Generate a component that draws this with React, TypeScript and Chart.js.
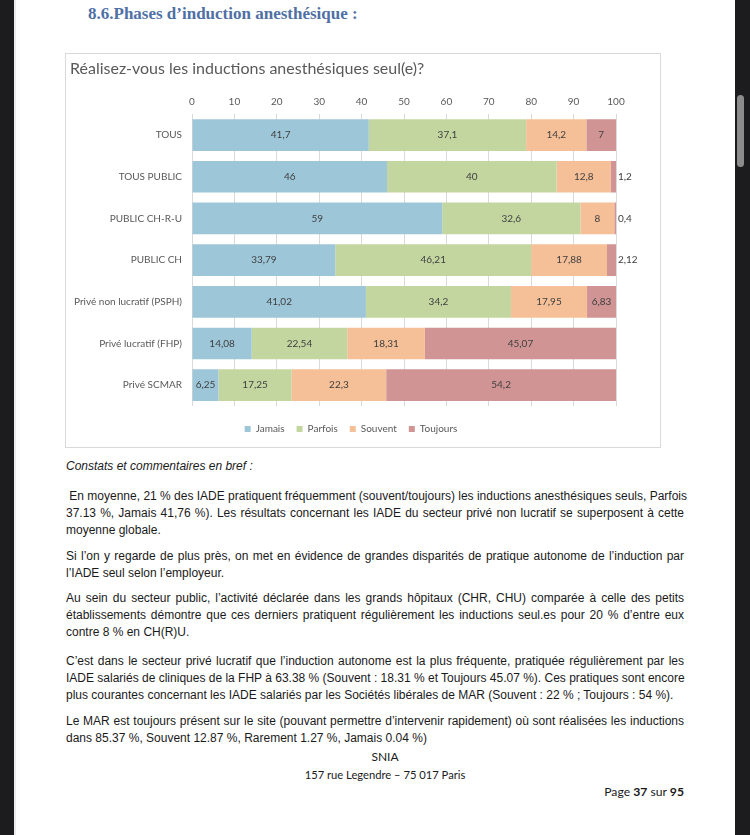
import React, { useEffect, useRef } from 'react';
import { Chart, registerables } from 'chart.js';

Chart.register(...registerables);

// ---------- Chart data ----------
const categories = [
  'TOUS',
  'TOUS PUBLIC',
  'PUBLIC CH-R-U',
  'PUBLIC CH',
  'Privé non lucratif (PSPH)',
  'Privé lucratif (FHP)',
  'Privé SCMAR',
];
const jamais = [41.7, 46, 59, 33.79, 41.02, 14.08, 6.25];
const parfois = [37.1, 40, 32.6, 46.21, 34.2, 22.54, 17.25];
const souvent = [14.2, 12.8, 8, 17.88, 17.95, 18.31, 22.3];
const toujours = [7, 1.2, 0.4, 2.12, 6.83, 45.07, 54.2];
const seriesNames = ['Jamais', 'Parfois', 'Souvent', 'Toujours'];
const seriesColors = ['#9DC7D9', '#C4D6A0', '#F5BF97', '#D09494'];
const chartTitle = 'Réalisez-vous les inductions anesthésiques seul(e)?';
const xMin = 0;
const xMax = 100;
const xStep = 10;

const FONT = 'Lato, "Open Sans", sans-serif';
const BODY_FONT = '"Liberation Sans", Arial, sans-serif';

const dataLabels = {
  id: 'dataLabels',
  afterDatasetsDraw(chart: any) {
    const ctx = chart.ctx;
    ctx.save();
    ctx.font = `10px ${FONT}`;
    ctx.fillStyle = '#404040';
    ctx.textBaseline = 'middle';
    chart.data.datasets.forEach((ds: any, di: number) => {
      const meta = chart.getDatasetMeta(di);
      meta.data.forEach((el: any, i: number) => {
        const v = ds.data[i];
        const label = String(v).replace('.', ',');
        const { x, y, base } = el.getProps(['x', 'y', 'base'], true);
        const w = x - base;
        if (w < 12) {
          ctx.textAlign = 'left';
          ctx.fillText(label, x + 2, y);
        } else {
          ctx.textAlign = 'center';
          ctx.fillText(label, (x + base) / 2, y);
        }
      });
    });
    ctx.restore();
  },
};

function BarChart() {
  const ref = useRef<HTMLCanvasElement | null>(null);
  useEffect(() => {
    if (!ref.current) return;
    const series = [jamais, parfois, souvent, toujours];
    const chart = new Chart(ref.current, {
      type: 'bar',
      data: {
        labels: categories,
        datasets: seriesNames.map((n, i) => ({
          label: n,
          data: series[i],
          backgroundColor: seriesColors[i],
          borderWidth: 0,
          barPercentage: 0.76,
          categoryPercentage: 1,
        })),
      },
      options: {
        indexAxis: 'y',
        responsive: false,
        maintainAspectRatio: false,
        animation: false,
        layout: { padding: { left: 4, right: 27, top: 0, bottom: 2 } },
        scales: {
          x: {
            type: 'linear',
            position: 'top',
            stacked: true,
            min: xMin,
            max: xMax,
            ticks: {
              stepSize: xStep,
              color: '#595959',
              font: { family: FONT, size: 10 },
              padding: 6,
            },
            grid: { color: '#d9d9d9', drawTicks: false },
            border: { display: false },
          },
          x2: {
            type: 'linear',
            axis: 'x',
            position: 'bottom',
            display: true,
            ticks: { display: false },
            grid: { display: false, drawTicks: false },
            border: { display: false },
            afterFit(s: any) {
              s.height = 6;
            },
          },
          y: {
            stacked: true,
            ticks: {
              color: '#595959',
              font: { family: FONT, size: 10 },
              padding: 10,
            },
            grid: { display: false, drawTicks: false },
            border: { display: false },
            afterFit(s: any) {
              s.width = 122;
            },
          },
          y2: {
            type: 'linear',
            axis: 'y',
            position: 'right',
            display: true,
            ticks: { display: false },
            grid: { display: false, drawTicks: false },
            border: { display: false },
            afterFit(s: any) {
              s.width = 16;
            },
          },
        },
        plugins: {
          title: {
            display: true,
            text: chartTitle,
            align: 'start',
            color: '#595959',
            font: { family: FONT, size: 16, weight: 'normal' },
            padding: { top: 5, bottom: 12 },
          },
          legend: {
            position: 'bottom',
            labels: {
              boxWidth: 6,
              boxHeight: 6,
              padding: 12,
              color: '#595959',
              font: { family: FONT, size: 10 },
            },
          },
          tooltip: { enabled: false },
        },
      } as any,
      plugins: [dataLabels],
    });
    return () => chart.destroy();
  }, []);
  return (
    <canvas
      ref={ref}
      width={593}
      height={392}
      style={{ position: 'absolute', left: 66, top: 54, width: 593, height: 392 }}
    />
  );
}

type Line = { y: number; t: string; j?: boolean };

const bodyLines: Line[] = [
  { y: 496, t: '\u00a0En moyenne, 21 % des IADE pratiquent fréquemment (souvent/toujours) les inductions anesthésiques seuls, Parfois', j: true },
  { y: 513, t: '37.13 %, Jamais 41,76 %). Les résultats concernant les IADE du secteur privé non lucratif se superposent à cette', j: true },
  { y: 530, t: 'moyenne globale.' },
  { y: 556, t: 'Si l’on y regarde de plus près, on met en évidence de grandes disparités de pratique autonome de l’induction par', j: true },
  { y: 573, t: 'l’IADE seul selon l’employeur.' },
  { y: 598, t: 'Au sein du secteur public, l’activité déclarée dans les grands hôpitaux (CHR, CHU) comparée à celle des petits', j: true },
  { y: 615, t: 'établissements démontre que ces derniers pratiquent régulièrement les inductions seul.es pour 20 % d’entre eux', j: true },
  { y: 632, t: 'contre 8 % en CH(R)U.' },
  { y: 661, t: 'C’est dans le secteur privé lucratif que l’induction autonome est la plus fréquente, pratiquée régulièrement par les', j: true },
  { y: 678, t: 'IADE salariés de cliniques de la FHP à 63.38 % (Souvent : 18.31 % et Toujours 45.07 %). Ces pratiques sont encore', j: true },
  { y: 695, t: 'plus courantes concernant les IADE salariés par les Sociétés libérales de MAR (Souvent : 22 % ; Toujours : 54 %).' },
  { y: 721, t: 'Le MAR est toujours présent sur le site (pouvant permettre d’intervenir rapidement) où sont réalisées les inductions', j: true },
  { y: 738, t: 'dans 85.37 %, Souvent 12.87 %, Rarement 1.27 %, Jamais 0.04 %)' },
];

export default function App() {
  return (
    <div
      style={{
        position: 'fixed',
        left: 0,
        top: 0,
        width: 750,
        height: 835,
        background: '#ffffff',
        overflow: 'hidden',
      }}
    >
      {/* side strips */}
      <div style={{ position: 'absolute', left: 0, top: 0, width: 14, height: 835, background: '#1c1c1e' }} />
      <div style={{ position: 'absolute', left: 14, top: 0, width: 2, height: 835, background: '#ececec' }} />
      <div style={{ position: 'absolute', left: 735, top: 0, width: 15, height: 835, background: '#1c1c1e' }} />
      <div style={{ position: 'absolute', left: 737, top: 95, width: 7, height: 72, borderRadius: 4, background: '#8c8c8c' }} />

      {/* heading */}
      <div
        style={{
          position: 'absolute',
          left: 88,
          top: 3,
          fontFamily: '"Liberation Serif", "Times New Roman", serif',
          fontWeight: 'bold',
          fontSize: 17,
          lineHeight: '22px',
          color: '#4f70a4',
          whiteSpace: 'nowrap',
        }}
      >
        8.6.Phases d’induction anesthésique :
      </div>

      {/* chart box */}
      <div
        style={{
          position: 'absolute',
          left: 65,
          top: 53,
          width: 594,
          height: 393,
          border: '1px solid #d9d9d9',
        }}
      />
      <BarChart />

      {/* comments */}
      <div
        style={{
          position: 'absolute',
          left: 66,
          top: 466 - 8.5,
          fontFamily: BODY_FONT,
          fontStyle: 'italic',
          fontSize: 12,
          lineHeight: '17px',
          color: '#1a1a1a',
          whiteSpace: 'nowrap',
        }}
      >
        Constats et commentaires en bref :
      </div>
      {bodyLines.map((l, i) => (
        <div
          key={i}
          style={{
            position: 'absolute',
            left: 66,
            top: l.y - 8.5,
            width: 618,
            fontFamily: BODY_FONT,
            fontSize: 12,
            lineHeight: '17px',
            color: '#1a1a1a',
            textAlign: l.j ? 'justify' : 'left',
            textAlignLast: l.j ? 'justify' : 'left',
            whiteSpace: 'nowrap',
          }}
        >
          {l.t}
        </div>
      ))}

      {/* footer */}
      <div
        style={{
          position: 'absolute',
          left: 285,
          width: 200,
          top: 757 - 9,
          textAlign: 'center',
          fontFamily: FONT,
          fontSize: 12,
          lineHeight: '18px',
          color: '#1a1a1a',
        }}
      >
        SNIA
      </div>
      <div
        style={{
          position: 'absolute',
          left: 235,
          width: 300,
          top: 775 - 9,
          textAlign: 'center',
          fontFamily: FONT,
          fontSize: 11.2,
          lineHeight: '18px',
          color: '#1a1a1a',
        }}
      >
        157 rue Legendre – 75 017 Paris
      </div>
      <div
        style={{
          position: 'absolute',
          left: 484,
          width: 200,
          top: 792 - 9,
          textAlign: 'right',
          fontFamily: FONT,
          fontSize: 12.2,
          lineHeight: '18px',
          color: '#1a1a1a',
        }}
      >
        Page <b>37</b> sur <b>95</b>
      </div>
    </div>
  );
}
